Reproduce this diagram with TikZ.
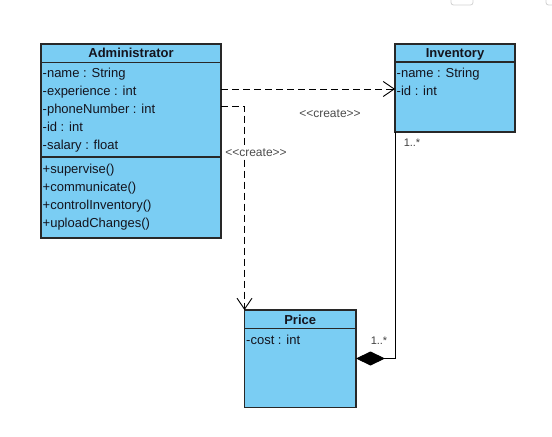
\documentclass[tikz,border=0pt]{standalone}
\usepackage{fontspec}
\setmainfont{Liberation Sans}[Ligatures=TeXOff]
\usetikzlibrary{arrows.meta}
\definecolor{classfill}{RGB}{122,205,243}
\definecolor{edge}{RGB}{40,40,40}
\definecolor{ink}{RGB}{20,20,30}
\begin{document}
\begin{tikzpicture}[x=1bp,y=-1bp,
  classbox/.style={draw=edge, line width=1.1bp, fill=classfill, anchor=north west, inner sep=0, outer sep=0},
  title/.style={font=\fontsize{13bp}{15bp}\selectfont\bfseries, text=ink, anchor=base, inner sep=0},
  member/.style={font=\fontsize{13bp}{15bp}\selectfont, text=ink, anchor=base west, inner sep=0},
  stereo/.style={font=\fontsize{12bp}{13bp}\selectfont, text=black!70, anchor=base, fill=white, inner sep=1bp},
  mult/.style={font=\fontsize{11bp}{13bp}\selectfont, text=black!75, anchor=base, inner sep=0},
  compline/.style={draw=edge, line width=1.1bp},
  dep/.style={draw=black, line width=0.9bp, dash pattern=on 7bp off 4bp,
    -{Straight Barb[length=11bp,width=15bp,line width=0.9bp]}},
  comp/.style={draw=black, line width=0.9bp, -{Diamond[length=29bp,width=14bp]}},
]
\useasboundingbox (0,0) rectangle (552,437);

% window controls peeking in at the top edge
\draw[gray!35, line width=0.8bp, rounded corners=2.5bp] (451,-8) rectangle (473,5);
\draw[gray!35, line width=0.8bp, rounded corners=2.5bp] (546,-8) rectangle (560,5);

% ---- Administrator ----
\node[classbox, minimum width=180bp, minimum height=194bp] (adm) at (41,44) {};
\draw[compline] ([yshift=-18.5bp]adm.north west) -- ([yshift=-18.5bp]adm.north east);
\draw[compline] ([yshift=-113bp]adm.north west) -- ([yshift=-113bp]adm.north east);
\node[title] (adm-title) at (131,57.8) {Administrator};
\foreach \t [count=\i] in {-name : String, -experience : int, -phoneNumber : int, -id : int, -salary : float}
  \node[member] (adm-a\i) at (42.5,{77.8+(\i-1)*17.9}) {\t};
\foreach \t [count=\i] in {+supervise(), +communicate(), +controlInventory(), +uploadChanges()}
  \node[member] (adm-m\i) at (42.5,{173.5+(\i-1)*17.9}) {\t};

% ---- Inventory ----
\node[classbox, minimum width=120bp, minimum height=88bp] (inv) at (395,44) {};
\draw[compline] ([yshift=-18bp]inv.north west) -- ([yshift=-18bp]inv.north east);
\node[title] (inv-title) at (455,57.5) {Inventory};
\node[member] (inv-a1) at (396.5,77.8) {-name : String};
\node[member] (inv-a2) at (396.5,95.7) {-id : int};

% ---- Price ----
\node[classbox, minimum width=111.5bp, minimum height=97.5bp] (price) at (244.5,310) {};
\draw[compline] ([yshift=-18.5bp]price.north west) -- ([yshift=-18.5bp]price.north east);
\node[title] (price-title) at (300.2,324) {Price};
\node[member] (price-a1) at (246,344.5) {-cost : int};

% ---- relationships ----
\draw[dep] ([yshift=-45bp]adm.north east) -- ([yshift=-45bp]inv.north west);
\draw[dep] ([yshift=-62bp]adm.north east) -| (price.north west);
\draw[comp] (inv.south west) |- ([yshift=-48.5bp]price.north east);

\node[stereo] (create1) at (330,117.3) {<<create>>};
\node[stereo] (create2) at (256,156.5) {<<create>>};
\node[mult] (mult-inv) at (412,146.5) {1..*};
\node[mult] (mult-price) at (379,344) {1..*};
\end{tikzpicture}
\end{document}
